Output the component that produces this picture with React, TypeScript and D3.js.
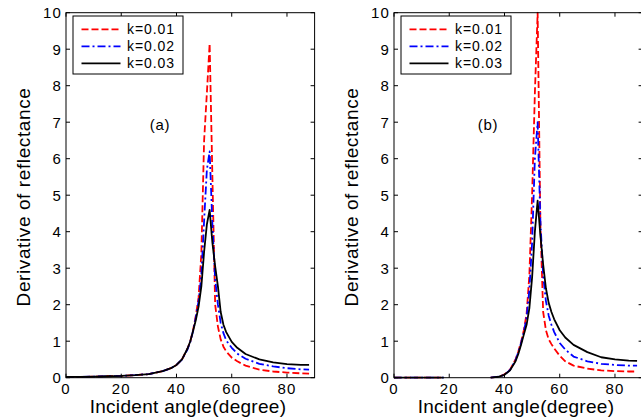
import * as d3 from 'd3';
import React, { useRef, useEffect } from 'react';

// incident angles (degree) for panel (a)
const anglesA = [0, 5, 10, 15, 20, 25, 30, 35, 38, 40, 42, 44, 45, 46, 47, 48, 49, 50, 51, 52, 53, 54, 55, 56, 57, 58, 60, 62, 65, 70, 75, 80, 85, 88];
const redA = [0.02, 0.02, 0.03, 0.04, 0.05, 0.07, 0.1, 0.18, 0.26, 0.35, 0.5, 0.8, 1.0, 1.3, 1.7, 2.2, 3.4, 6.5, 7.8, 9.15, 5.5, 2.0, 1.4, 1.05, 0.85, 0.72, 0.55, 0.45, 0.33, 0.22, 0.17, 0.14, 0.12, 0.11];
const blueA = [0.02, 0.02, 0.03, 0.04, 0.05, 0.07, 0.1, 0.18, 0.26, 0.35, 0.5, 0.78, 0.98, 1.28, 1.65, 2.1, 2.8, 4.3, 5.7, 6.2, 4.2, 2.7, 2.0, 1.5, 1.22, 1.02, 0.82, 0.66, 0.52, 0.38, 0.31, 0.26, 0.23, 0.22];
const blackA = [0.02, 0.02, 0.03, 0.04, 0.05, 0.07, 0.1, 0.18, 0.26, 0.35, 0.5, 0.8, 1.0, 1.28, 1.58, 1.95, 2.5, 3.45, 4.2, 4.6, 3.7, 3.05, 2.5, 1.8, 1.45, 1.25, 0.98, 0.82, 0.65, 0.5, 0.42, 0.37, 0.35, 0.35];

// panel (b): no data between ~18 and 35 degree
const anglesB = [0, 5, 10, 15, 18, 26, 35, 38, 40, 42, 44, 45, 46, 47, 48, 49, 50, 51, 52, 53, 54, 55, 56, 57, 58, 60, 62, 65, 70, 75, 80, 85, 88];
const redB = [0, 0, 0, 0, 0, null, 0, 0.03, 0.09, 0.22, 0.5, 0.72, 0.98, 1.3, 1.75, 2.8, 5.0, 7.8, 10.0, 4.2, 1.8, 1.3, 1.05, 0.92, 0.8, 0.6, 0.45, 0.33, 0.25, 0.2, 0.18, 0.17, 0.17];
const blueB = [0, 0, 0, 0, 0, null, 0, 0.03, 0.08, 0.21, 0.48, 0.7, 0.95, 1.25, 1.65, 2.4, 3.7, 6.0, 7.0, 4.3, 2.8, 2.1, 1.7, 1.45, 1.25, 0.95, 0.77, 0.58, 0.45, 0.38, 0.35, 0.33, 0.33];
const blackB = [0, 0, 0, 0, 0, null, 0, 0.03, 0.08, 0.2, 0.45, 0.65, 0.9, 1.18, 1.45, 1.9, 2.75, 4.0, 4.85, 3.9, 3.1, 2.45, 2.05, 1.8, 1.6, 1.3, 1.1, 0.9, 0.7, 0.56, 0.5, 0.47, 0.46];

const seriesNames = ['k=0.01', 'k=0.02', 'k=0.03'];
const xTicks = [0, 20, 40, 60, 80];
const yTicks = [0, 1, 2, 3, 4, 5, 6, 7, 8, 9, 10];

const FONT = 'Liberation Sans, Arial, Helvetica, sans-serif';

export default function App() {
  const ref = useRef<SVGSVGElement>(null);

  const width = 641;
  const height = 419;
  const margin = { top: 12.7, bottom: 377.7 };
  const panelW = 248.6;

  useEffect(() => {
    const svg = d3.select(ref.current);
    svg.selectAll('*').remove();

    const styles = [
      { color: '#ff0000', dash: '7,3' },
      { color: '#0000ff', dash: '8,3,2,3' },
      { color: '#000000', dash: null },
    ];

    const panels = [
      { left: 66, tag: '(a)', angles: anglesA, series: [redA, blueA, blackA] },
      { left: 394, tag: '(b)', angles: anglesB, series: [redB, blueB, blackB] },
    ];

    const y = d3.scaleLinear().domain([0, 10]).range([margin.bottom, margin.top]);

    panels.forEach((p, pi) => {
      const x = d3.scaleLinear().domain([0, 90]).range([p.left, p.left + panelW]);
      const g = svg.append('g');

      const clipId = 'clip' + pi;
      svg.append('clipPath').attr('id', clipId)
        .append('rect')
        .attr('x', p.left).attr('y', margin.top - 1)
        .attr('width', panelW).attr('height', margin.bottom - margin.top + 2);

      // curves
      const line = d3.line<[number, number | null]>()
        .defined(d => d[1] !== null)
        .x(d => x(d[0]))
        .y(d => y(d[1] as number));

      p.series.forEach((vals, si) => {
        const pts = p.angles.map((a, i) => [a, vals[i]] as [number, number | null]);
        g.append('path')
          .attr('d', line(pts))
          .attr('fill', 'none')
          .attr('stroke', styles[si].color)
          .attr('stroke-width', 1.8)
          .attr('stroke-dasharray', styles[si].dash)
          .attr('stroke-linejoin', 'round')
          .attr('clip-path', `url(#${clipId})`);
      });

      // box
      g.append('rect')
        .attr('x', x(0)).attr('y', margin.top)
        .attr('width', x(90) - x(0)).attr('height', margin.bottom - margin.top)
        .attr('fill', 'none').attr('stroke', '#000').attr('stroke-width', 1);

      // inward ticks, all four sides
      const tl = 4;
      xTicks.forEach(t => {
        g.append('line').attr('x1', x(t)).attr('x2', x(t)).attr('y1', margin.bottom).attr('y2', margin.bottom - tl).attr('stroke', '#000');
        g.append('line').attr('x1', x(t)).attr('x2', x(t)).attr('y1', margin.top).attr('y2', margin.top + tl).attr('stroke', '#000');
        g.append('text')
          .attr('x', x(t)).attr('y', 393.5)
          .attr('text-anchor', 'middle')
          .attr('font-family', FONT).attr('font-size', 15)
          .attr('letter-spacing', 1.2)
          .text(t);
      });
      yTicks.forEach(t => {
        g.append('line').attr('x1', x(0)).attr('x2', x(0) + tl).attr('y1', y(t)).attr('y2', y(t)).attr('stroke', '#000');
        g.append('line').attr('x1', x(90)).attr('x2', x(90) - tl).attr('y1', y(t)).attr('y2', y(t)).attr('stroke', '#000');
        g.append('text')
          .attr('x', x(0) - 4).attr('y', y(t) + 5.3)
          .attr('text-anchor', 'end')
          .attr('font-family', FONT).attr('font-size', 15)
          .attr('letter-spacing', 1.2)
          .text(t);
      });

      // axis titles
      g.append('text')
        .attr('x', x(0) + 122).attr('y', 413)
        .attr('text-anchor', 'middle')
        .attr('font-family', FONT).attr('font-size', 19)
        .attr('letter-spacing', 0.3)
        .text('Incident angle(degree)');
      g.append('text')
        .attr('transform', `translate(${x(0) - 36},197) rotate(-90)`)
        .attr('text-anchor', 'middle')
        .attr('font-family', FONT).attr('font-size', 19)
        .attr('letter-spacing', 0.6)
        .text('Derivative of reflectance');

      // panel tag
      g.append('text')
        .attr('x', x(0) + 94).attr('y', 129.5)
        .attr('text-anchor', 'middle')
        .attr('font-family', FONT).attr('font-size', 15)
        .attr('letter-spacing', 0.8)
        .text(p.tag);

      // legend
      const lg = g.append('g').attr('transform', `translate(${x(0) + 7},16)`);
      lg.append('rect')
        .attr('width', 110).attr('height', 58)
        .attr('fill', '#fff').attr('stroke', '#000').attr('stroke-width', 1);
      seriesNames.forEach((name, i) => {
        const ly = 13.3 + i * 17;
        lg.append('line')
          .attr('x1', 8.5).attr('x2', 47.5).attr('y1', ly).attr('y2', ly)
          .attr('stroke', styles[i].color)
          .attr('stroke-width', 1.8)
          .attr('stroke-dasharray', styles[i].dash);
        lg.append('text')
          .attr('x', 54).attr('y', ly + 5)
          .attr('font-family', FONT).attr('font-size', 14)
          .attr('letter-spacing', 0.9)
          .text(name);
      });
    });
  }, []);

  return (
    <svg ref={ref} width={width} height={height}
      style={{ position: 'absolute', left: 0, top: 0, background: '#fff' }} />
  );
}
